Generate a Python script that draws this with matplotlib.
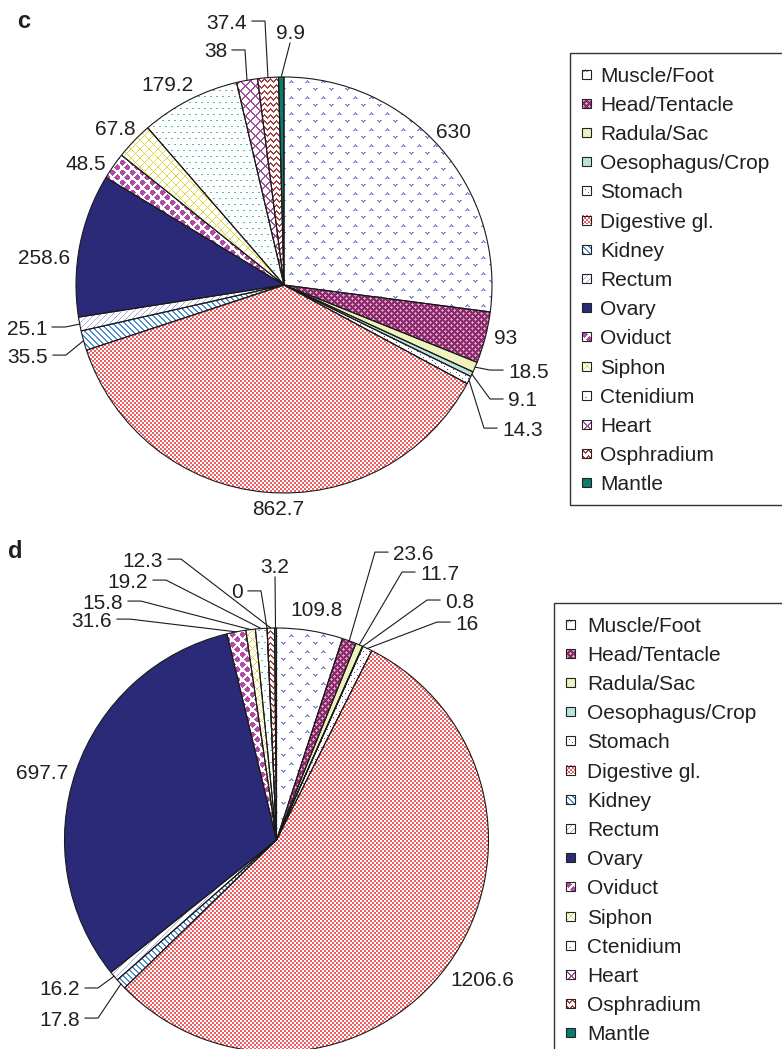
import numpy as np
import matplotlib
matplotlib.use("Agg")
import matplotlib.pyplot as plt
import matplotlib.transforms as mtransforms
from matplotlib.colors import to_rgb
from matplotlib.patches import Rectangle

plt.rcParams['font.family'] = ['Liberation Sans', 'DejaVu Sans']

# ---------------------------------------------------------------- data
tissues = ["Muscle/Foot", "Head/Tentacle", "Radula/Sac", "Oesophagus/Crop",
           "Stomach", "Digestive gl.", "Kidney", "Rectum", "Ovary", "Oviduct",
           "Siphon", "Ctenidium", "Heart", "Osphradium", "Mantle"]

values_c = [630, 93, 18.5, 9.1, 14.3, 862.7, 35.5, 25.1, 258.6, 48.5,
            67.8, 179.2, 38, 37.4, 9.9]
values_d = [109.8, 23.6, 11.7, 0.8, 16, 1206.6, 17.8, 16.2, 697.7, 31.6,
            15.8, 19.2, 0, 12.3, 3.2]

# ---------------------------------------------------------------- styles
# pattern fill per tissue: (pattern, foreground, background)
fills = [
    ("chevron", "#8a8ad4", "#ffffff"),
    ("cross",   "#d99cc4", "#8a2a6a"),
    ("solid",   "#eef2bd", None),
    ("solid",   "#b8e3de", None),
    ("dots",    "#7c3f8d", "#ffffff"),
    ("checker", "#ec5f63", "#ffffff"),
    ("bdiag",   "#4d8fd1", "#ffffff"),
    ("fdiag",   "#a9a9dd", "#ffffff"),
    ("solid",   "#2b2a78", None),
    ("diamond", "#b04ca5", "#ffffff"),
    ("lattice", "#e0d83a", "#ffffff"),
    ("sparse",  "#4fbfb6", "#ffffff"),
    ("xhatch",  "#a1529d", "#ffffff"),
    ("zigzag",  "#a93c3c", "#ffffff"),
    ("solid",   "#0c7a6c", None),
]

TEXT = "#231f20"
LINE = "#1a1a1a"

# value-label placement, in units of the pie radius
label_pos_c = [(0.817, 0.745), (1.067, -0.250), (1.077, -0.409), (1.077, -0.548),
               (1.048, -0.688), (-0.029, -1.072), (-1.135, -0.337), (-1.139, -0.202),
               (-1.154, 0.139), (-0.952, 0.587), (-0.8125, 0.755), (-0.558, 0.971),
               (-0.274, 1.130), (-0.178, 1.269), (0.029, 1.221)]
label_ha_c = ["center", "center", "left", "left", "left", "center", "right", "right",
              "center", "center", "center", "center", "right", "right", "center"]
leader_c = [None, None, "elbow", "elbow", "elbow", None, "elbow", "elbow",
            None, None, None, None, "elbow", "elbow", "direct"]

label_pos_d = [(0.191, 1.094), (0.5495, 1.358), (0.677, 1.264), (0.795, 1.132),
               (0.842, 1.028), (0.969, -0.651), (-0.927, -0.840), (-0.927, -0.698),
               (-1.106, 0.321), (-0.776, 1.042), (-0.724, 1.127), (-0.606, 1.226),
               (-0.158, 1.175), (-0.535, 1.325), (-0.007, 1.297)]
label_ha_d = ["center", "left", "left", "left", "left", "center", "right", "right",
              "center", "right", "right", "right", "right", "right", "center"]
leader_d = [None, "elbow", "elbow", "elbow", "elbow", None, "elbow", "elbow",
            None, "elbow", "elbow", "elbow", "elbow", "elbow", "direct"]

W, H = 782, 1049
fig = plt.figure(figsize=(W / 100, H / 100), dpi=100)


def texture(kind, fg, bg, h, w):
    """Bitmap pattern fill of h x w pixels."""
    r, c = np.mgrid[0:h, 0:w]
    if kind == "solid":
        m = np.ones((h, w), bool)
    elif kind == "chevron":
        rr, cc = r % 16, c % 16
        up = (((rr == 0) & (cc == 3)) | ((rr == 1) & np.isin(cc, [2, 3, 4]))
              | ((rr == 2) & np.isin(cc, [1, 2, 4, 5])))
        dn = (((rr == 8) & np.isin(cc, [9, 10, 12, 13]))
              | ((rr == 9) & np.isin(cc, [10, 11, 12])) | ((rr == 10) & (cc == 11)))
        m = up | dn
    elif kind == "cross":
        rr, cc = r % 6, c % 6
        m = ((abs(rr - 1) + abs(cc - 1)) <= 1) | ((abs(rr - 4) + abs(cc - 4)) <= 1)
    elif kind == "dots":
        rr, cc = r % 6, c % 6
        m = ((rr == 0) & (cc == 0)) | ((rr == 3) & (cc == 3))
    elif kind == "checker":
        m = ((r // 2 + c // 2) % 2) == 0
    elif kind == "bdiag":
        m = ((r - c) % 6) < 2
    elif kind == "fdiag":
        m = ((r + c) % 6) == 0
    elif kind == "diamond":
        rr, cc = r % 10, c % 10
        m = ((abs(rr - 2) + abs(cc - 2)) <= 3) | ((abs(rr - 7) + abs(cc - 7)) <= 3)
    elif kind == "lattice":
        m = (((r + c) % 9) == 0) | (((r - c) % 9) == 0)
    elif kind == "sparse":
        rr, cc = r % 12, c % 12
        m = (((rr == 0) & np.isin(cc, [0, 1, 6, 7]))
             | ((rr == 6) & np.isin(cc, [3, 4, 9, 10])))
    elif kind == "xhatch":
        m = (((r + c) % 10) < 2) | (((r - c) % 10) < 2)
    elif kind == "zigzag":
        rr, cc = r % 6, c % 6
        zig = np.array([0, 1, 2, 3, 2, 1])[cc]
        m = (rr == zig) | (rr == (zig + 1) % 6)
    else:
        m = np.zeros((h, w), bool)
    fg_rgb = np.array(to_rgb(fg))
    bg_rgb = np.array(to_rgb(bg if bg is not None else fg))
    return np.where(m[..., None], fg_rgb, bg_rgb)


def pie_panel(box, center, radius, values, pos, aligns, leaders):
    left, top, w, h = box
    cx, cy = center
    ax = fig.add_axes([left / W, 1 - (top + h) / H, w / W, h / H])
    wedges, _ = ax.pie(values, startangle=90, counterclock=False, radius=1,
                       wedgeprops=dict(facecolor="none", edgecolor=LINE,
                                       linewidth=0.8))
    xlim = ((left - cx) / radius, (left + w - cx) / radius)
    ylim = ((cy - top - h) / radius, (cy - top) / radius)
    for wedge, (kind, fg, bg) in zip(wedges, fills):
        img = texture(kind, fg, bg, h, w)
        im = ax.imshow(img, extent=(xlim[0], xlim[1], ylim[0], ylim[1]),
                       origin="upper", interpolation="nearest", aspect="auto",
                       zorder=0.5)
        im.set_clip_path(wedge)

    shift = mtransforms.offset_copy(ax.transData, fig=fig, y=-7.5, units="dots")
    gap, seg, drop = 5 / radius, 13 / radius, 12 / radius
    for wedge, v, (tx, ty), al, lead in zip(wedges, values, pos, aligns, leaders):
        mid = np.deg2rad(0.5 * (wedge.theta1 + wedge.theta2))
        ax_x, ax_y = np.cos(mid), np.sin(mid)
        ax.text(tx, ty, f"{v:g}", ha=al, va="baseline", transform=shift,
                fontsize=15, color=TEXT)
        if lead == "elbow":
            s = 1 if al == "left" else -1
            ax.plot([ax_x, tx - s * (gap + seg), tx - s * gap], [ax_y, ty, ty],
                    color=LINE, lw=0.8, clip_on=False)
        elif lead == "direct":
            ax.plot([ax_x, tx], [ax_y, ty - drop], color=LINE, lw=0.8,
                    clip_on=False)

    ax.set_aspect("auto")
    ax.set_xlim(xlim)
    ax.set_ylim(ylim)
    ax.axis("off")
    return ax


# overlay in pixel units for panel letters and legends
ov = fig.add_axes([0, 0, 1, 1], zorder=-1)


def legend_box(x0, y0, x1, y1, first_y, step, mx, tx):
    ov.add_patch(Rectangle((x0, y0), x1 - x0, y1 - y0, fill=False,
                           ec="#333333", lw=1.0, clip_on=False))
    s = 9
    for i, (name, (kind, fg, bg)) in enumerate(zip(tissues, fills)):
        yc = first_y + i * step
        img = texture(kind, fg, bg, s, s)
        ov.imshow(img, extent=(mx, mx + s, yc + s / 2, yc - s / 2),
                  origin="upper", interpolation="nearest", aspect="auto",
                  zorder=2)
        ov.add_patch(Rectangle((mx, yc - s / 2), s, s, fill=False,
                               ec="#222222", lw=0.8, zorder=3))
        ov.text(tx, yc + 7.5, name, fontsize=15, va="baseline", ha="left",
                color=TEXT)


legend_box(570, 53, 800, 505, 74, 29.2, 582, 600)
legend_box(554, 603, 800, 1065, 624, 29.2, 566, 587)

ov.text(17, 28, "c", fontsize=17, fontweight="bold", va="baseline", color=TEXT)
ov.text(8, 558, "d", fontsize=17, fontweight="bold", va="baseline", color=TEXT)
ov.set_aspect("auto")
ov.set_xlim(0, W)
ov.set_ylim(H, 0)
ov.axis("off")

pie_panel((0, 0, 545, 522), (284, 285), 208, values_c,
          label_pos_c, label_ha_c, leader_c)
pie_panel((0, 522, 545, 527), (276.5, 840), 212, values_d,
          label_pos_d, label_ha_d, leader_d)

fig.savefig("out.png", dpi=100)
